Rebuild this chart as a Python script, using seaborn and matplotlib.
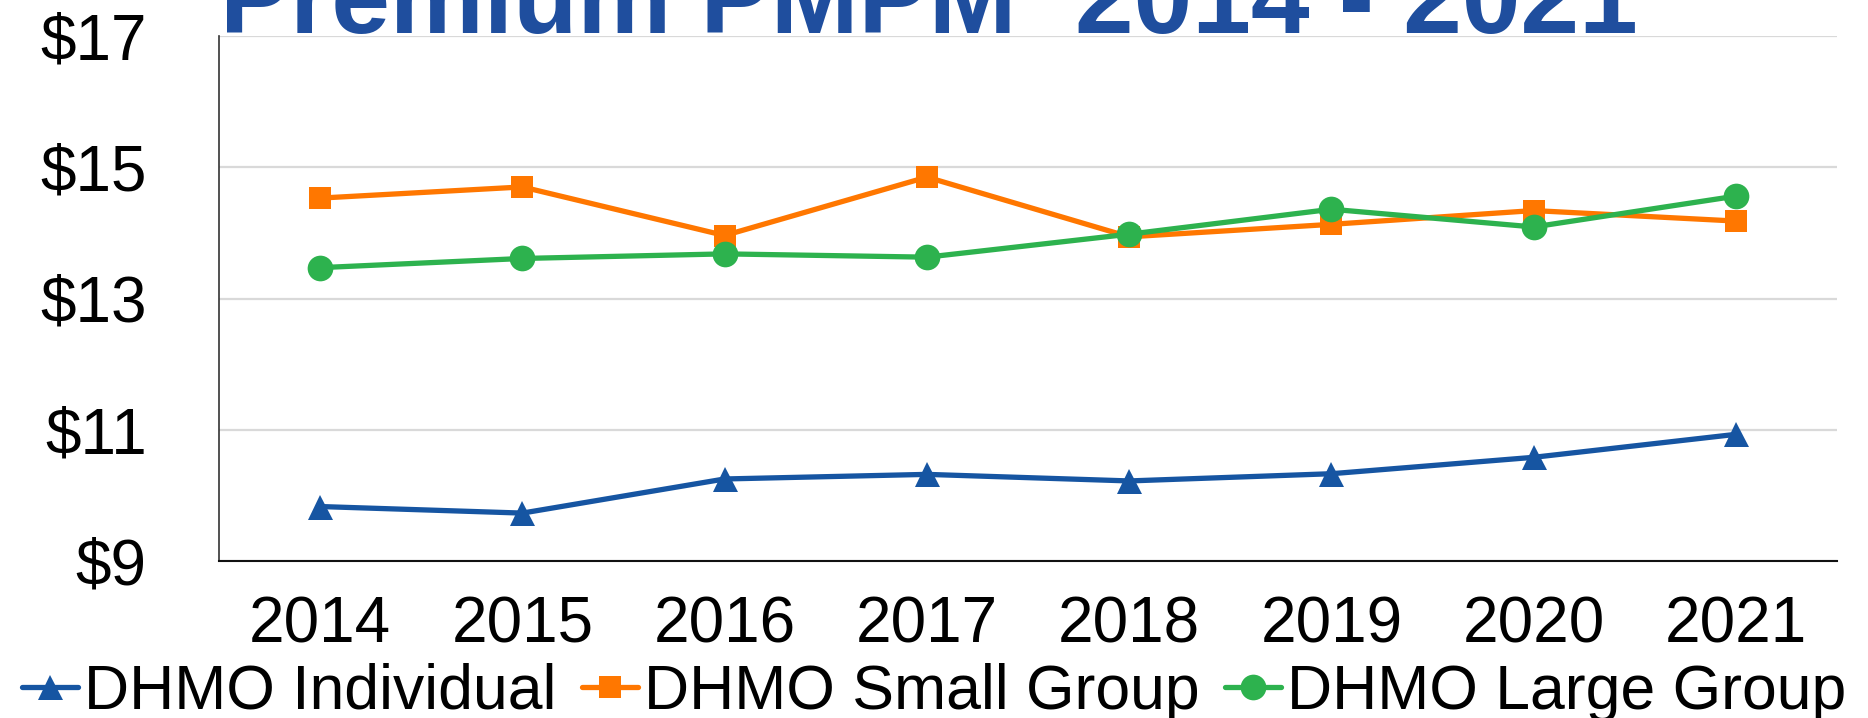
import matplotlib
matplotlib.use("Agg")
import matplotlib.pyplot as plt
import seaborn as sns
import pandas as pd

years = ["2014", "2015", "2016", "2017", "2018", "2019", "2020", "2021"]
individual = [9.83, 9.73, 10.25, 10.32, 10.22, 10.33, 10.58, 10.93]
small_group = [14.53, 14.70, 13.96, 14.85, 13.94, 14.13, 14.34, 14.18]
large_group = [13.47, 13.61, 13.68, 13.63, 13.98, 14.36, 14.09, 14.56]
series_names = ["DHMO Individual", "DHMO Small Group", "DHMO Large Group"]
y_ticks = [9, 11, 13, 15, 17]
y_tick_labels = ["$9", "$11", "$13", "$15", "$17"]
title = "Premium PMPM  2014 - 2021"

colors = {"DHMO Individual": "#1655A2", "DHMO Small Group": "#FF7700", "DHMO Large Group": "#2DB24E"}
markers = {"DHMO Individual": "^", "DHMO Small Group": "s", "DHMO Large Group": "o"}
msizes = {"DHMO Individual": 18, "DHMO Small Group": 16.5, "DHMO Large Group": 18.5}

rows = []
for name, vals in zip(series_names, [individual, small_group, large_group]):
    for y, v in zip(years, vals):
        rows.append({"Year": y, "Value": v, "Series": name})
df = pd.DataFrame(rows)

sns.set_style("white")
plt.rcParams["font.family"] = ["Liberation Sans", "DejaVu Sans"]

fig = plt.figure(figsize=(18.68, 7.18), dpi=100)
ax = fig.add_axes([219 / 1868, 1 - 561 / 718, (1837 - 219) / 1868, (561 - 36) / 718])

for name in series_names:
    sub = df[df["Series"] == name]
    sns.lineplot(data=sub, x="Year", y="Value", ax=ax, color=colors[name],
                 marker=markers[name], markersize=msizes[name], markeredgewidth=0,
                 linewidth=3.8, label=name, sort=False)

ax.set_xlim(-0.5, len(years) - 0.5)
ax.set_ylim(9, 17)
ax.set_yticks(y_ticks)
ax.set_yticklabels(y_tick_labels)
ax.set_xlabel("")
ax.set_ylabel("")
ax.tick_params(axis="y", length=0, pad=52, labelsize=46, labelcolor="#000000")
ax.tick_params(axis="x", length=0, pad=25, labelsize=46, labelcolor="#000000")
ax.yaxis.grid(True, color="#d9d9d9", linewidth=1.6)
ax.xaxis.grid(False)
ax.set_axisbelow(True)
for s in ["top", "right"]:
    ax.spines[s].set_visible(False)
ax.spines["left"].set_color("#333333")
ax.spines["left"].set_linewidth(1.2)
ax.spines["bottom"].set_color("#111111")
ax.spines["bottom"].set_linewidth(1.5)

handles, labels = ax.get_legend_handles_labels()
ax.get_legend().remove()
leg = fig.legend(handles, labels, loc="center", bbox_to_anchor=(0.5, 1 - 692 / 718), ncol=3,
                 frameon=False, fontsize=45, handlelength=0.9, handletextpad=0.1,
                 columnspacing=0.4, borderaxespad=0, markerscale=1.0)
for t in leg.get_texts():
    t.set_color("#000000")

fig.text(220 / 1868, 1 - 33 / 718, title, color="#1F4E9E", fontsize=76,
         fontweight="bold", ha="left", va="baseline")

fig.savefig("out.png", dpi=100)
